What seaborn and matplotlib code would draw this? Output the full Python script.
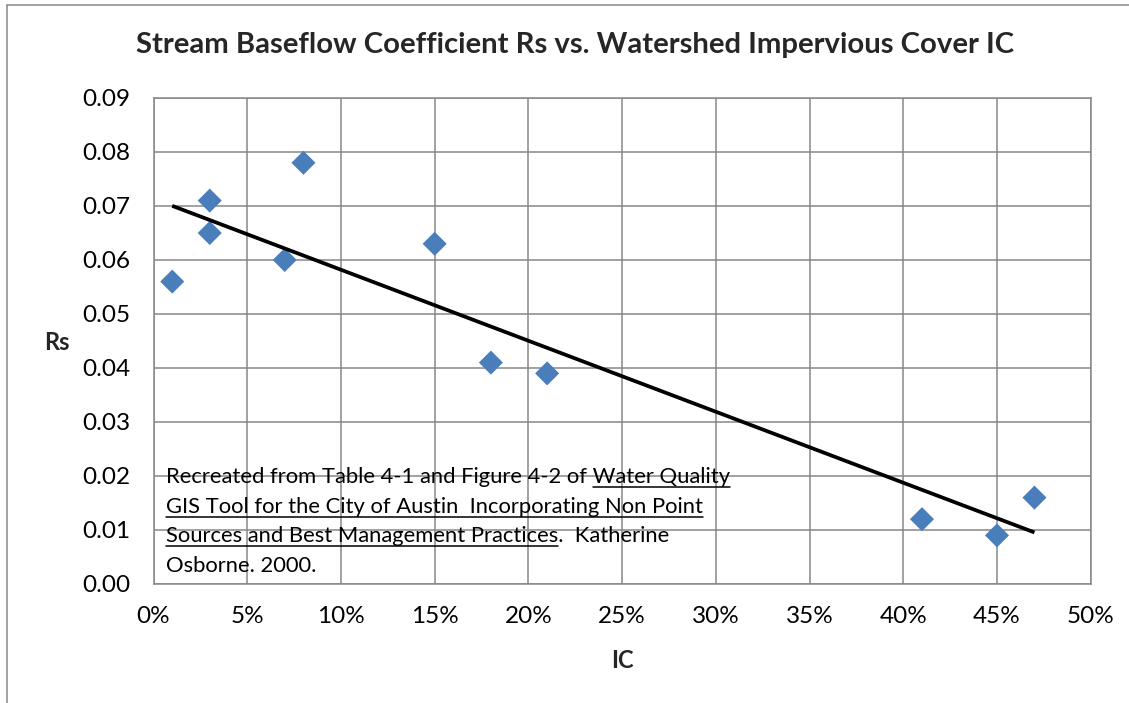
import numpy as np
import matplotlib
matplotlib.use("Agg")
import matplotlib.pyplot as plt
import seaborn as sns
import pandas as pd
from matplotlib.lines import Line2D
from matplotlib.ticker import MultipleLocator, FuncFormatter
from matplotlib.font_manager import FontProperties

# Impervious cover (fraction) and stream baseflow coefficient per watershed
impervious_cover = [0.01, 0.03, 0.03, 0.07, 0.08, 0.15, 0.18, 0.21, 0.41, 0.45, 0.47]
baseflow_coef = [0.056, 0.071, 0.065, 0.060, 0.078, 0.063, 0.041, 0.039, 0.012, 0.009, 0.016]

title = "Stream Baseflow Coefficient Rs vs. Watershed Impervious Cover IC"
x_label = "IC"
y_label = "Rs"

# Source note: each line is a list of (text, underlined) pieces
source_note = [
    [("Recreated from Table 4-1 and Figure 4-2 of ", False), ("Water Quality", True)],
    [("GIS Tool for the City of Austin  Incorporating Non Point", True)],
    [("Sources and Best Management Practices", True), (".  Katherine", False)],
    [("Osborne. 2000.", False)],
]

df = pd.DataFrame({"IC": impervious_cover, "Rs": baseflow_coef})

W, H = 1129, 703
DPI = 100
GRID = "#878787"
BLUE = "#4A7EBB"

sns.set_style("white")
plt.rcParams["font.family"] = ["Lato", "DejaVu Sans"]

fig = plt.figure(figsize=(W / DPI, H / DPI), dpi=DPI)
fig.patch.set_facecolor("white")

# chart border
fig.add_artist(Line2D([7 / W, 7 / W], [0, 1 - 5 / H], transform=fig.transFigure,
                      color=GRID, lw=1.1))
fig.add_artist(Line2D([7 / W, 1], [1 - 5 / H, 1 - 5 / H], transform=fig.transFigure,
                      color=GRID, lw=1.1))

left, right, top, bottom = 153.5, 1090.7, 98, 584
ax = fig.add_axes([left / W, 1 - bottom / H, (right - left) / W, (bottom - top) / H])

sns.scatterplot(data=df, x="IC", y="Rs", marker="D", s=150, color=BLUE,
                edgecolor="none", ax=ax, zorder=4)
sns.regplot(data=df, x="IC", y="Rs", scatter=False, ci=None, truncate=True,
            line_kws={"color": "black", "lw": 2.7, "zorder": 5,
                      "solid_capstyle": "butt"}, ax=ax)

ax.set_xlim(0, 0.5)
ax.set_ylim(0, 0.09)
ax.xaxis.set_major_locator(MultipleLocator(0.05))
ax.yaxis.set_major_locator(MultipleLocator(0.01))
ax.xaxis.set_major_formatter(FuncFormatter(lambda v, p: f"{v * 100:.0f}%"))
ax.yaxis.set_major_formatter(FuncFormatter(lambda v, p: f"{v:.2f}"))

ax.grid(True, color=GRID, lw=1.1, zorder=0)
ax.set_axisbelow(True)
for s in ax.spines.values():
    s.set_color(GRID)
    s.set_linewidth(1.1)
ax.tick_params(axis="both", direction="out", length=5.8, width=1.1, color=GRID,
               labelsize=17.5, labelcolor="black")
ax.tick_params(axis="y", pad=11)
ax.tick_params(axis="x", pad=10)

ax.set_xlabel("")
ax.set_ylabel("")
fig.text(622 / W, 1 - 660 / H, x_label, ha="center", va="center",
         fontsize=17, fontweight="bold")
fig.text(57 / W, 1 - 342 / H, y_label, ha="center", va="center",
         fontsize=17, fontweight="bold")
fig.text(575 / W, 1 - 45 / H, title, ha="center", va="center",
         fontsize=21.1, fontweight="bold")

# source note with underlined title
renderer = fig.canvas.get_renderer()
note_size = 15.8
fp = FontProperties(family=["Lato", "DejaVu Sans"], size=note_size)


def text_width(s):
    # measure with a trailing guard glyph so trailing spaces count
    w1, _, _ = renderer.get_text_width_height_descent(s + "l", fp, ismath=False)
    w2, _, _ = renderer.get_text_width_height_descent("l", fp, ismath=False)
    return w1 - w2


x0 = 166
y0 = 483
line_step = 29.6
for i, pieces in enumerate(source_note):
    y = y0 + i * line_step
    full = "".join(p for p, _ in pieces)
    fig.text(x0 / W, 1 - y / H, full, ha="left", va="baseline", fontproperties=fp,
             color="black", zorder=6)
    prefix = ""
    for piece, under in pieces:
        if under:
            xa = x0 + text_width(prefix)
            xb = xa + text_width(piece)
            uy = 1 - (y + 4) / H
            fig.add_artist(Line2D([xa / W, xb / W], [uy, uy], transform=fig.transFigure,
                                  color="black", lw=1.1, zorder=6))
        prefix += piece

fig.savefig("out.png", dpi=DPI, facecolor="white")
